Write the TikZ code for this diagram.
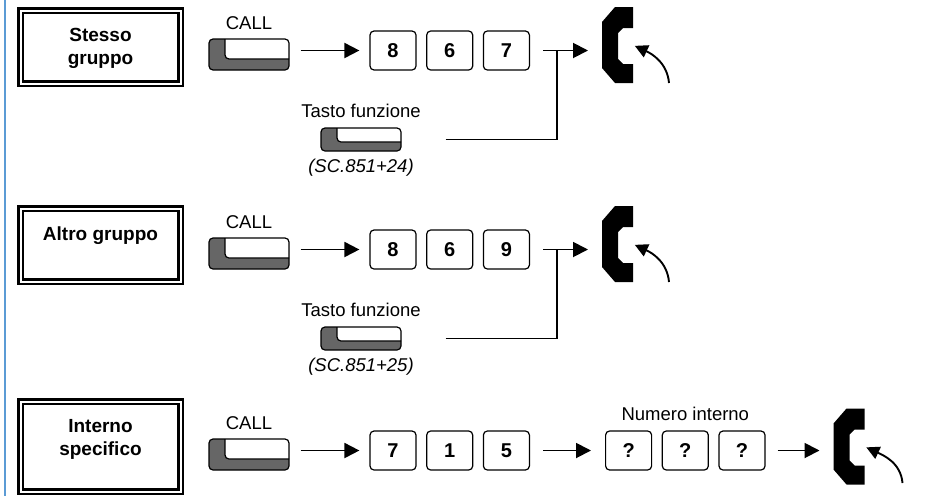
\documentclass[tikz,border=0pt]{standalone}
\usepackage{fontspec}
\setmainfont{Liberation Sans}
\usepackage{tikz}
\usetikzlibrary{positioning}
\usetikzlibrary{arrows.meta}
\definecolor{keygray}{HTML}{666666}
\definecolor{rulerblue}{HTML}{5B9BD5}
\tikzset{grpbox/.style={draw, line width=2.4pt, double distance=2pt, minimum width=160pt, minimum height=73pt, inner sep=0pt}}
\tikzset{grptext/.style={align=center, inner sep=0pt, font=\fontsize{19}{23}\selectfont\bfseries}}
\tikzset{lbl/.style={inner sep=0pt, font=\fontsize{18.5}{18.5}\selectfont}}
\tikzset{keybase/.style={draw, line width=1.2pt, rounded corners=4pt, fill=keygray, minimum width=80pt, inner sep=0pt}}
\tikzset{callkey/.style={keybase, minimum height=31pt, path picture={\draw[line width=1.2pt, fill=white, rounded corners=4pt] ([xshift=16pt,yshift=11pt]path picture bounding box.south west) rectangle ([xshift=6pt,yshift=6pt]path picture bounding box.north east);}}}
\tikzset{fnkey/.style={keybase, minimum height=23pt, path picture={\draw[line width=1.2pt, fill=white, rounded corners=4pt] ([xshift=16pt,yshift=9pt]path picture bounding box.south west) rectangle ([xshift=6pt,yshift=6pt]path picture bounding box.north east);}}}
\tikzset{digit/.style={draw, line width=1.2pt, rounded corners=4pt, minimum width=46pt, minimum height=39pt, inner sep=0pt, font=\fontsize{20}{20}\selectfont\bfseries}}
\tikzset{phone/.style={minimum width=31pt, minimum height=76pt, inner sep=0pt, outer sep=0pt}}
\tikzset{flow/.style={line width=1.9pt, -{Triangle[length=15pt,width=15pt]}}}
\tikzset{wire/.style={line width=1.9pt}}
\tikzset{hook/.style={line width=1.9pt, shorten >=2pt, -{Triangle[length=13pt,width=13pt]}}}
% handset drawn into a phone node
\newcommand{\handset}[1]{\fill[black, shift={(#1.north west)}] (31,0) -- (13,0) -- (0,-15) -- (0,-61) -- (13,-76) -- (31,-76) -- (31,-57) -- (21,-57) -- (16,-52) -- (16,-26) -- (21,-21) -- (31,-21) -- cycle;}

\begin{document}
\begin{tikzpicture}[x=1pt, y=1pt]
\useasboundingbox (0,0) rectangle (941,-496);
\draw[rulerblue, line width=2pt] (5,0) -- (5,-496);

% stesso gruppo
\node[grpbox] (g1) at (100.5,-47) {};
\node[grptext, below=19pt of g1.north] (g1t) {Stesso\\gruppo};
\node[callkey] (k1) at (249,-54.5) {};
\node[lbl, above=9pt of k1] (c1) {CALL};
\node[digit] (d11) at (393,-50.5) {8};
\node[digit, right=9.5pt of d11] (d12) {6};
\node[digit, right=9.5pt of d12] (d13) {7};
\node[phone] (p1) at (617.5,-45) {};
\handset{p1}
\node[fnkey] (f1) at (361,-139.5) {};
\node[lbl, above=9.5pt of f1] (f1a) {Tasto funzione};
\node[lbl, below=7pt of f1, font=\fontsize{18.5}{18.5}\selectfont\itshape] (f1b) {(SC.851+24)};
\coordinate (j1) at (557,-50.5);
\draw[flow, shorten <=11pt, shorten >=10pt] (k1.east |- d11.west) -- (d11.west);
\draw[flow, shorten <=13pt, shorten >=14pt] (d13.east) -- (p1.west |- d13.east);
\draw[wire] ([xshift=44pt]f1.east) -| (j1);
\draw[hook] ([shift={(36pt,-38pt)}]p1.east) to[out=95, in=-25] (p1.east);

% altro gruppo
\node[grpbox] (g2) at (100.5,-245) {};
\node[grptext, below=19pt of g2.north] (g2t) {Altro gruppo};
\node[callkey] (k2) at (249,-253.5) {};
\node[lbl, above=9pt of k2] (c2) {CALL};
\node[digit] (d21) at (393,-249.5) {8};
\node[digit, right=9.5pt of d21] (d22) {6};
\node[digit, right=9.5pt of d22] (d23) {9};
\node[phone] (p2) at (617.5,-244) {};
\handset{p2}
\node[fnkey] (f2) at (361,-338.5) {};
\node[lbl, above=9.5pt of f2] (f2a) {Tasto funzione};
\node[lbl, below=7pt of f2, font=\fontsize{18.5}{18.5}\selectfont\itshape] (f2b) {(SC.851+25)};
\coordinate (j2) at (557,-249.5);
\draw[flow, shorten <=11pt, shorten >=10pt] (k2.east |- d21.west) -- (d21.west);
\draw[flow, shorten <=13pt, shorten >=14pt] (d23.east) -- (p2.west |- d23.east);
\draw[wire] ([xshift=44pt]f2.east) -| (j2);
\draw[hook] ([shift={(36pt,-38pt)}]p2.east) to[out=95, in=-25] (p2.east);

% interno specifico
\node[grpbox, minimum height=90pt] (g3) at (100.5,-446.5) {};
\node[grptext, below=19pt of g3.north] (g3t) {Interno\\specifico};
\node[callkey] (k3) at (249,-454.5) {};
\node[lbl, above=9pt of k3] (c3) {CALL};
\node[digit] (d31) at (393,-450.5) {7};
\node[digit, right=9.5pt of d31] (d32) {1};
\node[digit, right=9.5pt of d32] (d33) {5};
\node[digit, right=75pt of d33] (q1) {?};
\node[digit, right=9.5pt of q1] (q2) {?};
\node[digit, right=9.5pt of q2] (q3) {?};
\node[lbl, above=9.5pt of q2] (q2a) {Numero interno};
\node[phone] (p3) at (849,-446.5) {};
\handset{p3}
\draw[flow, shorten <=11pt, shorten >=10pt] (k3.east |- d31.west) -- (d31.west);
\draw[flow, shorten <=13pt, shorten >=14pt] (d33.east) -- (q1.west);
\draw[flow, shorten <=12pt, shorten >=14pt] (q3.east) -- (p3.west |- q3.east);
\draw[hook] ([shift={(38pt,-36.5pt)}]p3.east) to[out=95, in=-25] (p3.east);
\end{tikzpicture}
\end{document}
